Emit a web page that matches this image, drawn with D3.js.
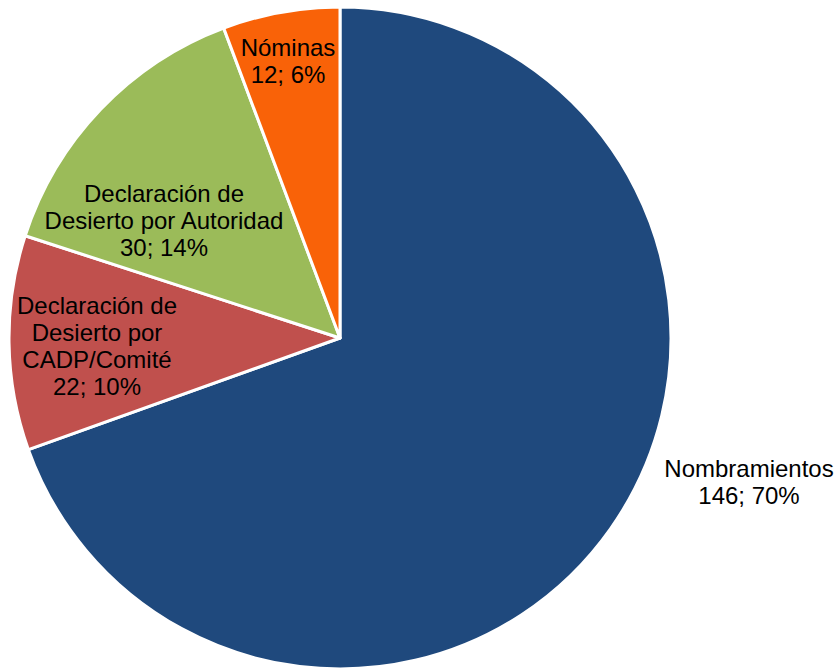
<!DOCTYPE html>
<html>
<head>
<meta charset="utf-8">
<script src="https://cdn.jsdelivr.net/npm/d3@7"></script>
<style>
  html, body { margin: 0; padding: 0; background: #fff; }
  svg { display: block; }
  text { font-family: "Liberation Sans", Arial, sans-serif; font-size: 24px; fill: #000; }
</style>
</head>
<body>
<script>
// Distribution of outcomes
const categories = ["Nombramientos", "Declaración de Desierto por CADP/Comité", "Declaración de Desierto por Autoridad", "Nóminas"];
const values = [146, 22, 30, 12];
const percents = [70, 10, 14, 6];
const labelLines = [
  ["Nombramientos"],
  ["Declaración de", "Desierto por", "CADP/Comité"],
  ["Declaración de", "Desierto por Autoridad"],
  ["Nóminas"]
];
const colors = ["#1F497D", "#C0504D", "#9BBB59", "#F96208"];

// Label anchor points (centre of each text block)
const labelAnchors = [[749, 482], [97, 346], [164, 221], [288, 61]];

const width = 836, height = 669;
const cx = 340, cy = 338, radius = 331;
const lineH = 27;

const svg = d3.select("body").append("svg")
  .attr("width", width).attr("height", height);

const pie = d3.pie().sort(null).value(d => d.value);
const arc = d3.arc().innerRadius(0).outerRadius(radius);

const data = categories.map((c, i) => ({ name: c, value: values[i], pct: percents[i], lines: labelLines[i], color: colors[i] }));
const arcs = pie(data);

const g = svg.append("g").attr("transform", `translate(${cx},${cy})`);
g.selectAll("path").data(arcs).join("path")
  .attr("d", arc)
  .attr("fill", d => d.data.color)
  .attr("stroke", "#fff")
  .attr("stroke-width", 3)
  .attr("stroke-linejoin", "round");

const labels = svg.selectAll("text.lbl").data(arcs).join("text")
  .attr("class", "lbl")
  .attr("text-anchor", "middle");

labels.each(function(d, i) {
  const lines = d.data.lines.concat([`${d.data.value}; ${d.data.pct}%`]);
  const [x, y] = labelAnchors[i];
  const y0 = y - (lines.length - 1) * lineH / 2;
  d3.select(this).selectAll("tspan").data(lines).join("tspan")
    .attr("x", x)
    .attr("y", (_, k) => y0 + k * lineH)
    .attr("dy", "0.35em")
    .text(t => t);
});
</script>
</body>
</html>
